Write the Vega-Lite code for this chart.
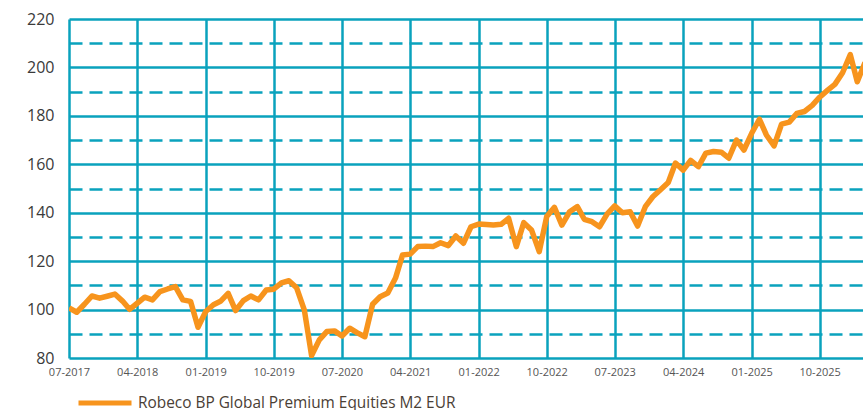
{
  "$schema": "https://vega.github.io/schema/vega-lite/v6.json",
  "width": 794,
  "height": 339,
  "autosize": {"type": "none"},
  "padding": {"left": 69, "top": 19, "right": 0, "bottom": 52},
  "background": "white",
  "config": {"view": {"stroke": null}, "font": "Open Sans"},
  "data": {"values": [
    {"date": "2017-07-01", "value": 100.7},
    {"date": "2017-08-01", "value": 98.9},
    {"date": "2017-09-01", "value": 102.2},
    {"date": "2017-10-01", "value": 105.6},
    {"date": "2017-11-01", "value": 104.7},
    {"date": "2017-12-01", "value": 105.5},
    {"date": "2018-01-01", "value": 106.4},
    {"date": "2018-02-01", "value": 103.5},
    {"date": "2018-03-01", "value": 100.1},
    {"date": "2018-04-01", "value": 102.6},
    {"date": "2018-05-01", "value": 105.1},
    {"date": "2018-06-01", "value": 104.0},
    {"date": "2018-07-01", "value": 107.4},
    {"date": "2018-08-01", "value": 108.5},
    {"date": "2018-09-01", "value": 109.5},
    {"date": "2018-10-01", "value": 104.0},
    {"date": "2018-11-01", "value": 103.4},
    {"date": "2018-12-01", "value": 92.7},
    {"date": "2019-01-01", "value": 99.2},
    {"date": "2019-02-01", "value": 102.0},
    {"date": "2019-03-01", "value": 103.4},
    {"date": "2019-04-01", "value": 106.7},
    {"date": "2019-05-01", "value": 99.6},
    {"date": "2019-06-01", "value": 103.7},
    {"date": "2019-07-01", "value": 105.6},
    {"date": "2019-08-01", "value": 104.0},
    {"date": "2019-09-01", "value": 108.1},
    {"date": "2019-10-01", "value": 108.4},
    {"date": "2019-11-01", "value": 111.0},
    {"date": "2019-12-01", "value": 111.9},
    {"date": "2020-01-01", "value": 109.0},
    {"date": "2020-02-01", "value": 99.8},
    {"date": "2020-03-01", "value": 81.0},
    {"date": "2020-04-01", "value": 87.5},
    {"date": "2020-05-01", "value": 90.9},
    {"date": "2020-06-01", "value": 91.2},
    {"date": "2020-07-01", "value": 89.1},
    {"date": "2020-08-01", "value": 92.3},
    {"date": "2020-09-01", "value": 90.4},
    {"date": "2020-10-01", "value": 88.8},
    {"date": "2020-11-01", "value": 102.2},
    {"date": "2020-12-01", "value": 105.3},
    {"date": "2021-01-01", "value": 106.8},
    {"date": "2021-02-01", "value": 113.0},
    {"date": "2021-03-01", "value": 122.5},
    {"date": "2021-04-01", "value": 122.9},
    {"date": "2021-05-01", "value": 126.0},
    {"date": "2021-06-01", "value": 126.2},
    {"date": "2021-07-01", "value": 126.0},
    {"date": "2021-08-01", "value": 127.6},
    {"date": "2021-09-01", "value": 126.4},
    {"date": "2021-10-01", "value": 130.4},
    {"date": "2021-11-01", "value": 127.4},
    {"date": "2021-12-01", "value": 134.2},
    {"date": "2022-01-01", "value": 135.3},
    {"date": "2022-02-01", "value": 135.1},
    {"date": "2022-03-01", "value": 134.9},
    {"date": "2022-04-01", "value": 135.2},
    {"date": "2022-05-01", "value": 137.7},
    {"date": "2022-06-01", "value": 126.0},
    {"date": "2022-07-01", "value": 135.9},
    {"date": "2022-08-01", "value": 132.9},
    {"date": "2022-09-01", "value": 123.9},
    {"date": "2022-10-01", "value": 138.4},
    {"date": "2022-11-01", "value": 142.2},
    {"date": "2022-12-01", "value": 134.9},
    {"date": "2023-01-01", "value": 140.4},
    {"date": "2023-02-01", "value": 142.5},
    {"date": "2023-03-01", "value": 137.3},
    {"date": "2023-04-01", "value": 136.3},
    {"date": "2023-05-01", "value": 134.2},
    {"date": "2023-06-01", "value": 139.5},
    {"date": "2023-07-01", "value": 142.8},
    {"date": "2023-08-01", "value": 140.0},
    {"date": "2023-09-01", "value": 140.4},
    {"date": "2023-10-01", "value": 134.5},
    {"date": "2023-11-01", "value": 142.5},
    {"date": "2023-12-01", "value": 146.6},
    {"date": "2024-01-01", "value": 149.5},
    {"date": "2024-02-01", "value": 152.5},
    {"date": "2024-03-01", "value": 160.5},
    {"date": "2024-04-01", "value": 157.6},
    {"date": "2024-05-01", "value": 161.6},
    {"date": "2024-06-01", "value": 159.0},
    {"date": "2024-07-01", "value": 164.6},
    {"date": "2024-08-01", "value": 165.3},
    {"date": "2024-09-01", "value": 165.0},
    {"date": "2024-10-01", "value": 162.5},
    {"date": "2024-11-01", "value": 170.0},
    {"date": "2024-12-01", "value": 165.9},
    {"date": "2025-01-01", "value": 172.8},
    {"date": "2025-02-01", "value": 178.6},
    {"date": "2025-03-01", "value": 172.1},
    {"date": "2025-04-01", "value": 167.6},
    {"date": "2025-05-01", "value": 176.6},
    {"date": "2025-06-01", "value": 177.4},
    {"date": "2025-07-01", "value": 181.0},
    {"date": "2025-08-01", "value": 181.8},
    {"date": "2025-09-01", "value": 184.3},
    {"date": "2025-10-01", "value": 187.7},
    {"date": "2025-11-01", "value": 190.5},
    {"date": "2025-12-01", "value": 193.0},
    {"date": "2026-01-01", "value": 197.8},
    {"date": "2026-02-01", "value": 205.3},
    {"date": "2026-03-01", "value": 194.1},
    {"date": "2026-04-01", "value": 202.0}
  ]},
  "mark": {"type": "line", "strokeWidth": 5.5, "strokeJoin": "round", "strokeCap": "butt", "clip": true},
  "encoding": {
    "x": {
      "field": "date",
      "type": "temporal",
      "scale": {"type": "utc", "domain": [
        {"year": 2017, "month": 7, "date": 1, "utc": true},
        {"year": 2026, "month": 3, "date": 24, "utc": true}
      ]},
      "axis": {
        "title": null,
        "values": [
          {"year": 2017, "month": 7, "date": 1, "utc": true},
          {"year": 2018, "month": 4, "date": 1, "utc": true},
          {"year": 2019, "month": 1, "date": 1, "utc": true},
          {"year": 2019, "month": 10, "date": 1, "utc": true},
          {"year": 2020, "month": 7, "date": 1, "utc": true},
          {"year": 2021, "month": 4, "date": 1, "utc": true},
          {"year": 2022, "month": 1, "date": 1, "utc": true},
          {"year": 2022, "month": 10, "date": 1, "utc": true},
          {"year": 2023, "month": 7, "date": 1, "utc": true},
          {"year": 2024, "month": 4, "date": 1, "utc": true},
          {"year": 2025, "month": 1, "date": 1, "utc": true},
          {"year": 2025, "month": 10, "date": 1, "utc": true}
        ],
        "format": "%m-%Y",
        "domain": false,
        "ticks": false,
        "grid": true,
        "gridColor": "#0aa2bd",
        "gridWidth": 2.5,
        "gridOpacity": 1,
        "labelFont": "Open Sans",
        "labelFontSize": 11,
        "labelColor": "#555555",
        "labelPadding": 8,
        "labelOverlap": false,
        "labelFlush": false
      }
    },
    "y": {
      "field": "value",
      "type": "quantitative",
      "scale": {"domain": [80, 220], "nice": false, "zero": false},
      "axis": {
        "title": null,
        "values": [80, 90, 100, 110, 120, 130, 140, 150, 160, 170, 180, 190, 200, 210, 220],
        "labelExpr": "datum.value % 20 === 0 ? datum.label : ''",
        "domain": false,
        "ticks": false,
        "grid": true,
        "gridColor": "#0aa2bd",
        "gridWidth": 2.5,
        "gridOpacity": 1,
        "gridDash": {"condition": {"test": "datum.value % 20 !== 0", "value": [13, 7]}, "value": []},
        "labelFont": "Open Sans",
        "labelFontSize": 16,
        "labelColor": "#3a3a3a",
        "labelPadding": 15
      }
    },
    "color": {
      "datum": "Robeco BP Global Premium Equities M2 EUR",
      "type": "nominal",
      "scale": {"range": ["#f7941d"]},
      "legend": {
        "orient": "none",
        "legendX": 7,
        "legendY": 355,
        "title": null,
        "padding": 0,
        "symbolType": "stroke",
        "symbolStrokeWidth": 5,
        "symbolSize": 2809,
        "labelFont": "Open Sans",
        "labelFontSize": 15.4,
        "labelColor": "#4a4035",
        "labelLimit": 600,
        "labelOffset": 4
      }
    }
  }
}
